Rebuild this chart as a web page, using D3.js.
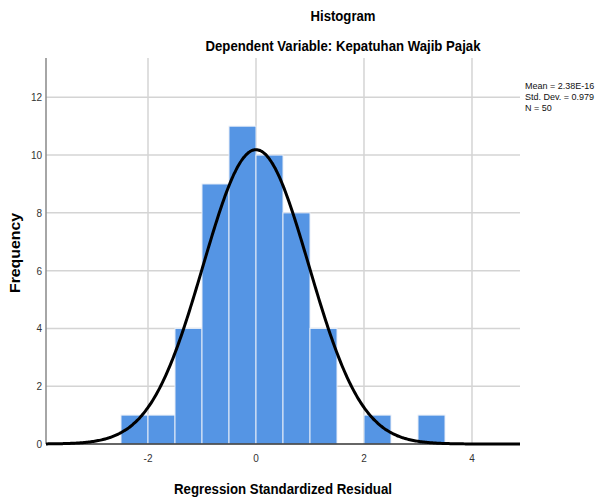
<!DOCTYPE html>
<html><head><meta charset="utf-8">
<script src="https://cdn.jsdelivr.net/npm/d3@7"></script>
<style>body{margin:0;background:#fff}svg{display:block}text{font-family:"Liberation Sans",Arial,sans-serif}</style>
</head><body><svg id="c" width="596" height="497"></svg>
<script>
const binStarts = [-2.5,-2.0,-1.5,-1.0,-0.5,0.0,0.5,1.0,1.5,2.0,2.5,3.0];
const binCounts = [1,1,4,9,11,10,8,4,0,1,0,1];
const binWidth = 0.5;
const xTicks = [-2,0,2,4];
const yTicks = [0,2,4,6,8,10,12];
const stats = ["Mean = 2.38E-16","Std. Dev. = 0.979","N = 50"];
const mean = 2.38e-16, sd = 0.979, N = 50;

const svg = d3.select("#c");
const x = d3.scaleLinear().domain([-3.889, 4.889]).range([46, 520]);
const y = d3.scaleLinear().domain([0, 13.36]).range([444, 58]);

// gridlines
svg.append("g").selectAll("line").data(yTicks.filter(d=>d>0)).join("line")
  .attr("x1",46).attr("x2",520).attr("y1",d=>y(d)).attr("y2",d=>y(d))
  .attr("stroke","#d4d4d4").attr("stroke-width",1.5);
svg.append("g").selectAll("line").data(xTicks).join("line")
  .attr("x1",d=>x(d)).attr("x2",d=>x(d)).attr("y1",58).attr("y2",444)
  .attr("stroke","#d4d4d4").attr("stroke-width",1.5);

// bars
svg.append("g").selectAll("rect").data(binStarts.map((s,i)=>({s,c:binCounts[i]})).filter(d=>d.c>0)).join("rect")
  .attr("x",d=>x(d.s)).attr("width",d=>x(d.s+binWidth)-x(d.s))
  .attr("y",d=>y(d.c)).attr("height",d=>y(0)-y(d.c))
  .attr("fill","#5595e4").attr("stroke","#e8eef8").attr("stroke-width",1);

// axes lines
svg.append("line").attr("x1",46).attr("x2",46).attr("y1",58).attr("y2",444).attr("stroke","#888").attr("stroke-width",1.5);
svg.append("line").attr("x1",46).attr("x2",520).attr("y1",444).attr("y2",444).attr("stroke","#333").attr("stroke-width",1.5);

// normal curve
const pts = d3.range(0,401).map(i=>{const v=-3.889+i*(4.889+3.889)/400;return [v, N*binWidth*Math.exp(-0.5*((v-mean)/sd)**2)/(sd*Math.sqrt(2*Math.PI))];});
svg.append("path").datum(pts).attr("d",d3.line().x(d=>x(d[0])).y(d=>y(d[1])).curve(d3.curveBasis))
  .attr("fill","none").attr("stroke","#000").attr("stroke-width",3);

// tick labels
svg.append("g").selectAll("text").data(yTicks).join("text")
  .attr("x",42).attr("y",d=>y(d)+4).attr("text-anchor","end").attr("font-size",10).attr("fill","#333").text(d=>d);
svg.append("g").selectAll("text").data(xTicks).join("text")
  .attr("x",d=>x(d)).attr("y",462).attr("text-anchor","middle").attr("font-size",10).attr("fill","#333").text(d=>d);

// titles
svg.append("text").attr("x",343).attr("y",21).attr("text-anchor","middle").attr("font-size",14).attr("font-weight","bold")
  .attr("textLength",65).attr("lengthAdjust","spacingAndGlyphs").text("Histogram");
svg.append("text").attr("x",343).attr("y",51).attr("text-anchor","middle").attr("font-size",14).attr("font-weight","bold")
  .attr("textLength",275).attr("lengthAdjust","spacingAndGlyphs").text("Dependent Variable: Kepatuhan Wajib Pajak");
svg.append("text").attr("x",283).attr("y",494).attr("text-anchor","middle").attr("font-size",14).attr("font-weight","bold")
  .attr("textLength",218).attr("lengthAdjust","spacingAndGlyphs").text("Regression Standardized Residual");
svg.append("text").attr("transform","translate(20,253) rotate(-90)").attr("text-anchor","middle").attr("font-size",14).attr("font-weight","bold")
  .attr("textLength",80).attr("lengthAdjust","spacingAndGlyphs").text("Frequency");

// stats
svg.append("g").selectAll("text").data(stats).join("text")
  .attr("x",525).attr("y",(d,i)=>89+i*11).attr("font-size",9).attr("fill","#111").text(d=>d);
</script></body></html>
